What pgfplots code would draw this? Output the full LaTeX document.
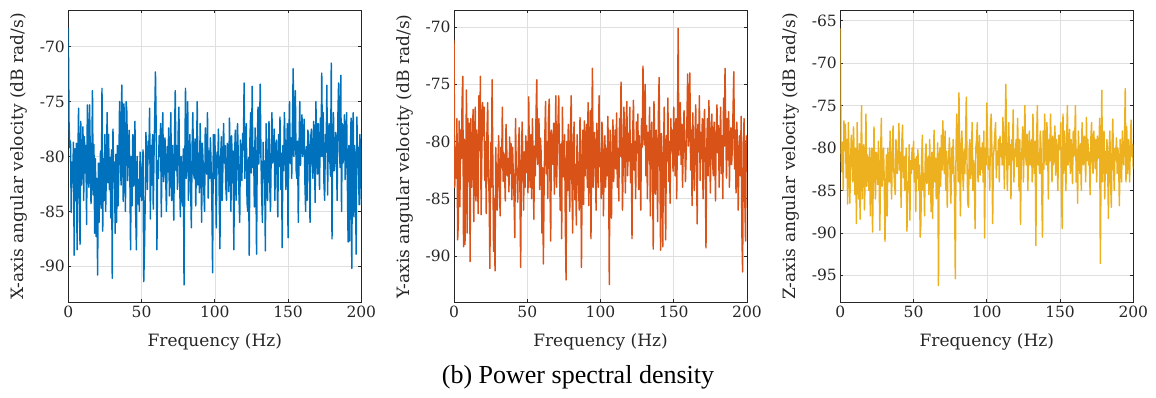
\documentclass[border=0pt]{standalone}
\usepackage{pgfplots}
\pgfplotsset{compat=1.18}
\usepackage{pgfplotstable}
\usepackage{fontspec}
\setmainfont{Liberation Serif}
\newfontfamily\axfont{DejaVu Serif}
\definecolor{axgray}{HTML}{262626}
\definecolor{gridgray}{HTML}{DFDFDF}
\definecolor{mblue}{HTML}{0072BD}
\definecolor{morange}{HTML}{D95319}
\definecolor{myellow}{HTML}{EDB120}

\pgfplotstableread[row sep=\\]{y\\
-68.3\\ -77.0\\ -79.2\\ -78.6\\ -85.1\\ -80.5\\ -82.4\\ -78.7\\ -89.0\\ -79.3\\ -84.0\\ -78.8\\ -88.5\\ -80.6\\ -75.6\\ -83.1\\ -88.0\\ -76.8\\ -82.6\\ -80.9\\
-77.3\\ -84.0\\ -78.2\\ -81.5\\ -79.0\\ -86.2\\ -75.3\\ -80.5\\ -82.8\\ -75.3\\ -79.6\\ -84.3\\ -81.0\\ -74.0\\ -83.5\\ -78.9\\ -87.0\\ -80.2\\ -87.3\\ -82.0\\
-90.8\\ -80.6\\ -86.0\\ -82.0\\ -79.5\\ -84.7\\ -73.8\\ -86.8\\ -80.2\\ -84.0\\ -78.0\\ -85.0\\ -81.3\\ -76.0\\ -82.4\\ -78.0\\ -83.0\\ -80.1\\ -85.6\\ -79.4\\
-91.1\\ -77.5\\ -82.3\\ -80.5\\ -87.0\\ -79.8\\ -86.0\\ -79.0\\ -84.5\\ -81.2\\ -75.0\\ -78.4\\ -82.6\\ -73.5\\ -78.0\\ -84.1\\ -75.2\\ -79.3\\ -85.0\\ -75.0\\
-76.0\\ -82.2\\ -80.0\\ -77.6\\ -81.4\\ -88.5\\ -80.0\\ -84.5\\ -78.0\\ -82.7\\ -80.3\\ -76.8\\ -85.2\\ -88.5\\ -80.0\\ -84.3\\ -82.1\\ -85.0\\ -79.6\\ -81.0\\
-84.0\\ -82.5\\ -79.4\\ -91.4\\ -88.5\\ -84.1\\ -77.8\\ -80.5\\ -83.0\\ -78.6\\ -80.2\\ -75.6\\ -85.7\\ -79.0\\ -82.6\\ -78.0\\ -84.8\\ -80.0\\ -76.3\\ -72.3\\
-77.5\\ -88.5\\ -80.4\\ -82.0\\ -78.1\\ -80.0\\ -77.0\\ -85.5\\ -79.2\\ -76.0\\ -82.3\\ -80.5\\ -78.3\\ -82.0\\ -85.0\\ -79.1\\ -81.4\\ -77.4\\ -83.6\\ -80.2\\
-76.0\\ -84.0\\ -79.0\\ -81.7\\ -85.8\\ -78.5\\ -74.0\\ -81.3\\ -79.0\\ -83.0\\ -77.8\\ -75.5\\ -82.4\\ -85.5\\ -80.0\\ -82.0\\ -84.5\\ -79.3\\ -91.7\\ -81.0\\
-73.8\\ -82.0\\ -78.6\\ -75.0\\ -84.0\\ -80.3\\ -78.0\\ -82.8\\ -86.5\\ -79.2\\ -76.0\\ -81.5\\ -82.0\\ -78.4\\ -84.5\\ -80.1\\ -75.0\\ -82.6\\ -79.7\\ -83.3\\
-77.0\\ -80.2\\ -86.0\\ -78.8\\ -80.5\\ -83.1\\ -85.0\\ -77.4\\ -79.0\\ -81.6\\ -76.0\\ -83.8\\ -79.5\\ -82.0\\ -78.3\\ -80.9\\ -84.0\\ -90.6\\ -78.0\\ -82.0\\
-78.0\\ -81.3\\ -86.5\\ -79.6\\ -81.0\\ -77.5\\ -83.4\\ -88.4\\ -80.0\\ -78.2\\ -84.0\\ -81.1\\ -77.0\\ -80.6\\ -79.0\\ -82.7\\ -84.0\\ -78.8\\ -80.4\\ -83.2\\
-76.5\\ -80.3\\ -85.0\\ -78.1\\ -82.4\\ -79.5\\ -88.5\\ -80.0\\ -77.6\\ -84.0\\ -81.2\\ -77.0\\ -79.8\\ -83.5\\ -86.0\\ -78.5\\ -80.7\\ -82.2\\ -77.9\\ -79.4\\
-73.3\\ -82.0\\ -79.4\\ -77.0\\ -84.2\\ -85.0\\ -80.1\\ -89.0\\ -78.3\\ -76.0\\ -81.5\\ -73.6\\ -81.0\\ -79.2\\ -84.6\\ -77.4\\ -80.8\\ -88.9\\ -79.0\\ -75.5\\
-80.7\\ -78.2\\ -73.4\\ -80.0\\ -83.5\\ -86.0\\ -78.7\\ -82.0\\ -80.4\\ -88.6\\ -77.0\\ -81.9\\ -84.0\\ -79.0\\ -76.8\\ -82.5\\ -85.0\\ -79.8\\ -76.0\\ -80.6\\
-80.0\\ -77.5\\ -84.0\\ -79.3\\ -78.5\\ -82.1\\ -85.5\\ -78.0\\ -80.9\\ -76.4\\ -83.0\\ -79.7\\ -88.3\\ -79.0\\ -81.3\\ -76.0\\ -78.8\\ -83.0\\ -80.2\\ -77.0\\
-87.4\\ -79.0\\ -75.0\\ -80.6\\ -78.3\\ -82.0\\ -77.1\\ -72.0\\ -80.0\\ -76.5\\ -74.0\\ -81.2\\ -82.0\\ -78.6\\ -86.0\\ -79.4\\ -75.0\\ -80.8\\ -78.0\\ -76.2\\
-80.0\\ -78.4\\ -76.6\\ -82.3\\ -85.0\\ -79.1\\ -84.0\\ -77.6\\ -78.0\\ -81.0\\ -86.0\\ -78.2\\ -77.5\\ -80.4\\ -82.0\\ -76.8\\ -79.5\\ -84.2\\ -75.0\\ -78.7\\
-81.6\\ -77.0\\ -79.9\\ -83.0\\ -76.5\\ -80.0\\ -72.4\\ -80.0\\ -76.0\\ -82.4\\ -84.0\\ -78.0\\ -79.6\\ -73.5\\ -83.5\\ -78.2\\ -77.0\\ -80.3\\ -81.8\\ -71.5\\
-87.5\\ -79.0\\ -76.0\\ -81.3\\ -80.5\\ -77.8\\ -79.4\\ -84.0\\ -76.4\\ -73.3\\ -78.0\\ -81.0\\ -72.6\\ -85.0\\ -77.0\\ -80.6\\ -79.0\\ -76.2\\ -82.1\\ -78.4\\
-76.0\\ -82.5\\ -87.8\\ -79.0\\ -87.7\\ -80.2\\ -76.5\\ -90.2\\ -78.0\\ -76.0\\ -85.5\\ -79.0\\ -82.3\\ -88.9\\ -76.4\\ -81.0\\ -79.2\\ -84.4\\ -78.0\\ -79.5\\
-84.4\\
}\Xdata

\pgfplotstableread[row sep=\\]{y\\
-71.1\\ -84.0\\ -80.5\\ -83.2\\ -78.0\\ -88.6\\ -87.0\\ -78.2\\ -85.7\\ -79.0\\ -81.5\\ -76.5\\ -74.3\\ -89.2\\ -79.8\\ -89.0\\ -82.1\\ -75.5\\ -88.0\\ -78.0\\
-83.5\\ -78.4\\ -90.5\\ -78.0\\ -84.0\\ -81.6\\ -77.2\\ -87.0\\ -80.3\\ -77.0\\ -85.2\\ -79.0\\ -82.6\\ -86.3\\ -76.0\\ -80.8\\ -74.3\\ -86.4\\ -81.0\\ -76.6\\
-79.5\\ -77.0\\ -83.4\\ -80.0\\ -86.3\\ -79.2\\ -76.6\\ -83.0\\ -84.8\\ -91.1\\ -80.1\\ -84.0\\ -74.6\\ -81.7\\ -89.6\\ -85.0\\ -91.3\\ -80.5\\ -84.0\\ -86.0\\
-82.0\\ -79.5\\ -83.8\\ -86.5\\ -80.5\\ -82.3\\ -77.0\\ -83.5\\ -81.0\\ -82.5\\ -85.2\\ -78.5\\ -80.6\\ -83.0\\ -81.5\\ -84.4\\ -79.6\\ -82.8\\ -80.2\\ -85.1\\
-80.5\\ -83.0\\ -85.0\\ -88.4\\ -78.0\\ -82.3\\ -83.0\\ -85.3\\ -80.5\\ -78.8\\ -84.0\\ -91.0\\ -82.0\\ -78.3\\ -81.4\\ -86.0\\ -80.9\\ -84.0\\ -79.5\\ -82.7\\
-80.0\\ -84.5\\ -76.1\\ -82.2\\ -84.0\\ -79.4\\ -85.0\\ -78.0\\ -81.6\\ -86.8\\ -80.4\\ -83.0\\ -77.5\\ -74.6\\ -82.0\\ -80.1\\ -78.0\\ -84.2\\ -79.7\\ -81.0\\
-88.0\\ -82.3\\ -90.7\\ -84.0\\ -79.5\\ -76.5\\ -82.8\\ -80.0\\ -85.0\\ -77.6\\ -76.3\\ -83.4\\ -88.7\\ -79.0\\ -81.5\\ -82.0\\ -78.4\\ -84.6\\ -80.9\\ -76.0\\
-84.0\\ -81.0\\ -78.3\\ -76.0\\ -82.5\\ -86.0\\ -80.2\\ -88.5\\ -77.0\\ -83.1\\ -82.0\\ -79.4\\ -87.5\\ -92.1\\ -80.0\\ -84.3\\ -78.5\\ -82.6\\ -86.1\\ -79.0\\
-76.0\\ -83.5\\ -88.0\\ -80.2\\ -78.3\\ -85.1\\ -82.0\\ -87.3\\ -79.4\\ -81.8\\ -84.0\\ -86.0\\ -77.9\\ -80.5\\ -91.0\\ -82.4\\ -79.0\\ -85.5\\ -78.2\\ -83.0\\
-80.0\\ -78.5\\ -84.0\\ -76.6\\ -85.6\\ -81.0\\ -77.3\\ -88.5\\ -79.0\\ -73.6\\ -84.0\\ -80.5\\ -79.2\\ -82.6\\ -86.0\\ -78.4\\ -80.8\\ -84.0\\ -76.0\\ -82.2\\
-81.0\\ -85.0\\ -78.3\\ -80.0\\ -86.5\\ -82.0\\ -79.5\\ -84.0\\ -80.6\\ -83.0\\ -77.8\\ -81.5\\ -92.5\\ -79.0\\ -84.6\\ -86.7\\ -80.0\\ -78.1\\ -83.5\\ -81.0\\
-79.0\\ -82.4\\ -77.5\\ -84.0\\ -80.6\\ -85.2\\ -78.0\\ -81.3\\ -74.8\\ -79.4\\ -86.0\\ -82.0\\ -77.0\\ -80.8\\ -84.5\\ -78.2\\ -76.5\\ -83.0\\ -79.3\\ -81.7\\
-77.0\\ -83.6\\ -80.2\\ -88.5\\ -79.0\\ -76.4\\ -82.5\\ -80.0\\ -85.0\\ -78.3\\ -81.0\\ -77.6\\ -84.2\\ -79.5\\ -82.0\\ -86.0\\ -78.0\\ -80.5\\ -73.4\\ -79.0\\
-80.3\\ -75.0\\ -83.0\\ -78.6\\ -85.0\\ -79.2\\ -81.6\\ -77.0\\ -86.5\\ -80.0\\ -78.3\\ -82.4\\ -89.4\\ -76.5\\ -80.0\\ -84.6\\ -79.0\\ -82.2\\ -87.0\\ -77.8\\
-74.4\\ -81.0\\ -89.5\\ -79.3\\ -83.0\\ -89.2\\ -80.6\\ -77.0\\ -84.0\\ -88.6\\ -79.5\\ -81.7\\ -76.2\\ -83.5\\ -80.0\\ -85.4\\ -78.0\\ -80.8\\ -79.0\\ -82.6\\
-77.0\\ -80.5\\ -83.0\\ -78.0\\ -85.0\\ -79.6\\ -70.1\\ -81.2\\ -79.0\\ -76.6\\ -82.0\\ -78.5\\ -84.0\\ -80.2\\ -77.3\\ -79.8\\ -83.5\\ -81.0\\ -78.0\\ -74.1\\
-80.4\\ -78.2\\ -74.0\\ -82.5\\ -79.0\\ -85.6\\ -77.5\\ -81.0\\ -84.3\\ -79.6\\ -76.8\\ -82.0\\ -87.2\\ -78.5\\ -80.9\\ -76.0\\ -83.4\\ -79.2\\ -81.5\\ -78.0\\
-85.0\\ -79.3\\ -77.2\\ -82.0\\ -89.3\\ -80.6\\ -78.0\\ -83.0\\ -76.4\\ -80.0\\ -84.5\\ -79.0\\ -77.6\\ -81.8\\ -83.0\\ -78.3\\ -80.5\\ -85.2\\ -79.0\\ -76.8\\
-81.0\\ -78.6\\ -84.0\\ -80.2\\ -77.0\\ -82.8\\ -79.5\\ -85.0\\ -76.2\\ -80.4\\ -73.6\\ -79.0\\ -83.2\\ -78.0\\ -81.6\\ -77.4\\ -84.0\\ -80.0\\ -78.8\\ -82.0\\
-80.6\\ -77.0\\ -73.9\\ -82.4\\ -79.0\\ -84.5\\ -78.3\\ -80.0\\ -86.0\\ -81.2\\ -79.5\\ -83.0\\ -77.8\\ -88.0\\ -91.4\\ -80.5\\ -78.0\\ -85.0\\ -88.7\\ -79.5\\
-80.5\\
}\Ydata

\pgfplotstableread[row sep=\\]{y\\
-65.9\\ -80.0\\ -82.8\\ -79.3\\ -85.0\\ -76.8\\ -80.3\\ -77.2\\ -83.5\\ -79.0\\ -86.6\\ -77.0\\ -81.2\\ -86.5\\ -82.0\\ -78.5\\ -80.4\\ -84.0\\ -77.5\\ -81.0\\
-85.5\\ -80.0\\ -88.9\\ -77.0\\ -83.4\\ -86.0\\ -79.5\\ -88.4\\ -82.0\\ -75.0\\ -86.0\\ -82.0\\ -79.6\\ -87.3\\ -83.0\\ -76.0\\ -84.5\\ -80.8\\ -82.6\\ -85.0\\
-80.0\\ -88.0\\ -82.4\\ -80.0\\ -89.9\\ -84.0\\ -77.5\\ -83.2\\ -86.0\\ -80.5\\ -82.0\\ -84.3\\ -79.2\\ -83.6\\ -89.7\\ -81.0\\ -76.5\\ -84.5\\ -82.2\\ -80.0\\
-84.0\\ -91.0\\ -85.0\\ -80.8\\ -88.0\\ -80.0\\ -83.5\\ -84.0\\ -78.0\\ -82.4\\ -86.0\\ -80.6\\ -77.4\\ -82.5\\ -84.2\\ -85.5\\ -79.0\\ -81.8\\ -83.0\\ -80.5\\
-77.1\\ -82.6\\ -80.5\\ -87.0\\ -79.2\\ -77.3\\ -83.5\\ -81.0\\ -85.0\\ -82.2\\ -80.0\\ -89.8\\ -84.0\\ -85.0\\ -79.6\\ -88.5\\ -81.5\\ -83.0\\ -80.0\\ -82.5\\
-79.2\\ -84.0\\ -81.3\\ -87.5\\ -81.0\\ -83.6\\ -80.2\\ -85.0\\ -82.0\\ -90.5\\ -89.0\\ -81.4\\ -78.5\\ -85.0\\ -83.0\\ -88.0\\ -81.0\\ -79.5\\ -84.2\\ -82.0\\
-81.0\\ -85.5\\ -79.0\\ -83.2\\ -87.5\\ -80.5\\ -88.3\\ -82.0\\ -77.9\\ -84.0\\ -81.2\\ -86.0\\ -83.0\\ -79.4\\ -96.2\\ -82.0\\ -80.0\\ -84.5\\ -78.5\\ -82.6\\
-76.8\\ -81.0\\ -83.0\\ -78.0\\ -85.0\\ -80.4\\ -87.0\\ -82.0\\ -81.0\\ -78.8\\ -84.0\\ -86.5\\ -80.0\\ -83.0\\ -79.0\\ -82.5\\ -85.4\\ -95.4\\ -80.0\\ -76.0\\
-80.6\\ -84.0\\ -73.5\\ -82.0\\ -88.0\\ -79.5\\ -78.0\\ -82.8\\ -85.0\\ -80.2\\ -83.0\\ -79.0\\ -74.0\\ -82.0\\ -86.5\\ -87.0\\ -80.0\\ -79.0\\ -83.6\\ -81.0\\
-77.0\\ -85.0\\ -81.5\\ -83.0\\ -89.5\\ -80.0\\ -79.0\\ -77.0\\ -84.0\\ -81.6\\ -78.5\\ -83.2\\ -80.0\\ -82.5\\ -79.4\\ -84.0\\ -78.0\\ -90.6\\ -80.0\\ -82.0\\
-74.7\\ -79.0\\ -82.5\\ -81.0\\ -85.0\\ -77.5\\ -76.0\\ -80.6\\ -88.9\\ -81.0\\ -80.0\\ -78.3\\ -77.0\\ -83.5\\ -80.4\\ -82.0\\ -79.0\\ -84.0\\ -78.6\\ -81.0\\
-79.5\\ -82.0\\ -76.4\\ -80.0\\ -84.8\\ -78.2\\ -72.5\\ -80.0\\ -85.0\\ -81.0\\ -77.0\\ -82.0\\ -79.6\\ -86.0\\ -79.0\\ -81.4\\ -75.5\\ -84.0\\ -80.2\\ -81.0\\
-79.0\\ -82.2\\ -76.5\\ -80.4\\ -85.0\\ -79.0\\ -89.0\\ -81.5\\ -80.0\\ -77.5\\ -84.0\\ -79.8\\ -75.0\\ -81.0\\ -82.0\\ -78.4\\ -85.0\\ -80.6\\ -78.0\\ -82.0\\
-81.0\\ -79.0\\ -84.0\\ -76.0\\ -80.5\\ -83.0\\ -79.2\\ -91.5\\ -79.0\\ -75.0\\ -82.0\\ -80.6\\ -83.0\\ -78.0\\ -80.0\\ -85.0\\ -90.5\\ -78.0\\ -82.5\\ -76.0\\
-80.0\\ -82.0\\ -77.0\\ -79.5\\ -86.0\\ -79.0\\ -81.5\\ -76.0\\ -80.8\\ -84.0\\ -78.6\\ -82.0\\ -80.0\\ -77.4\\ -83.2\\ -79.0\\ -81.0\\ -85.0\\ -78.5\\ -80.2\\
-80.0\\ -77.0\\ -86.0\\ -89.5\\ -76.0\\ -83.0\\ -78.0\\ -81.2\\ -85.0\\ -79.0\\ -75.0\\ -82.0\\ -80.3\\ -77.8\\ -83.0\\ -79.0\\ -80.6\\ -84.2\\ -78.0\\ -81.0\\
-79.0\\ -75.0\\ -84.0\\ -80.2\\ -86.5\\ -78.0\\ -81.0\\ -83.0\\ -79.5\\ -85.0\\ -77.0\\ -80.8\\ -82.0\\ -78.6\\ -80.0\\ -84.0\\ -76.4\\ -81.5\\ -79.0\\ -82.0\\
-80.5\\ -85.5\\ -79.0\\ -77.0\\ -81.6\\ -83.0\\ -78.0\\ -80.0\\ -82.4\\ -79.0\\ -84.0\\ -78.6\\ -80.0\\ -81.2\\ -76.5\\ -93.6\\ -82.0\\ -73.2\\ -84.0\\ -79.0\\
-78.0\\ -86.0\\ -80.4\\ -83.0\\ -79.0\\ -82.0\\ -88.3\\ -80.0\\ -78.0\\ -84.0\\ -87.0\\ -79.6\\ -76.6\\ -82.0\\ -85.0\\ -80.0\\ -81.4\\ -78.8\\ -83.0\\ -80.0\\
-82.0\\ -86.8\\ -79.0\\ -81.5\\ -84.0\\ -78.0\\ -80.6\\ -82.0\\ -79.0\\ -73.0\\ -84.0\\ -77.5\\ -83.0\\ -79.0\\ -80.5\\ -84.0\\ -79.2\\ -76.7\\ -81.0\\ -79.6\\
-82.5\\
}\Zdata

\pgfplotsset{
  psd/.style={
    scale only axis, width=293bp, height=292bp,
    xmin=0, xmax=200,
    xtick={0,50,100,150,200}, xticklabels={0,50,100,150,200},
    grid=major, major grid style={gridgray, line width=0.6bp},
    axis line style={axgray, line width=0.7bp},
    tick style={axgray, line width=0.7bp},
    tick align=inside, major tick length=3bp, tick pos=both,
    ticklabel style={font=\axfont\fontsize{15.5bp}{16bp}\selectfont, text=axgray},
    label style={font=\axfont\fontsize{17bp}{18bp}\selectfont, text=axgray},
    xlabel={Frequency (Hz)},
    xlabel style={at={(axis description cs:0.5,-0.1336)}, anchor=center},
    ylabel style={at={(axis description cs:-0.168,0.5)}, anchor=center},
    every axis plot/.append style={line width=1.45bp, line join=round},
  }
}

\begin{document}
\begin{tikzpicture}
\path[use as bounding box] (0,0) rectangle (1156bp,398bp);
\begin{axis}[psd, at={(68.3bp,95.5bp)}, anchor=south west,
  ymin=-93.3, ymax=-66.7,
  ytick={-90,-85,-80,-75,-70}, yticklabels={-90,-85,-80,-75,-70},
  ylabel={X-axis angular velocity (dB rad/s)}]
  \addplot[mblue, no markers] table[x expr=\coordindex*0.5, y=y] {\Xdata};
\end{axis}
\begin{axis}[psd, at={(454bp,95.5bp)}, anchor=south west,
  ymin=-94.07, ymax=-68.55,
  ytick={-90,-85,-80,-75,-70}, yticklabels={-90,-85,-80,-75,-70},
  ylabel={Y-axis angular velocity (dB rad/s)}]
  \addplot[morange, no markers] table[x expr=\coordindex*0.5, y=y] {\Ydata};
\end{axis}
\begin{axis}[psd, at={(840.3bp,95.5bp)}, anchor=south west,
  ymin=-98.2, ymax=-63.8,
  ytick={-95,-90,-85,-80,-75,-70,-65}, yticklabels={-95,-90,-85,-80,-75,-70,-65},
  ylabel={Z-axis angular velocity (dB rad/s)}]
  \addplot[myellow, no markers] table[x expr=\coordindex*0.5, y=y] {\Zdata};
\end{axis}
\node[font=\fontsize{26bp}{28bp}\selectfont, anchor=center] at (578bp,21bp) {(b) Power spectral density};
\end{tikzpicture}
\end{document}
